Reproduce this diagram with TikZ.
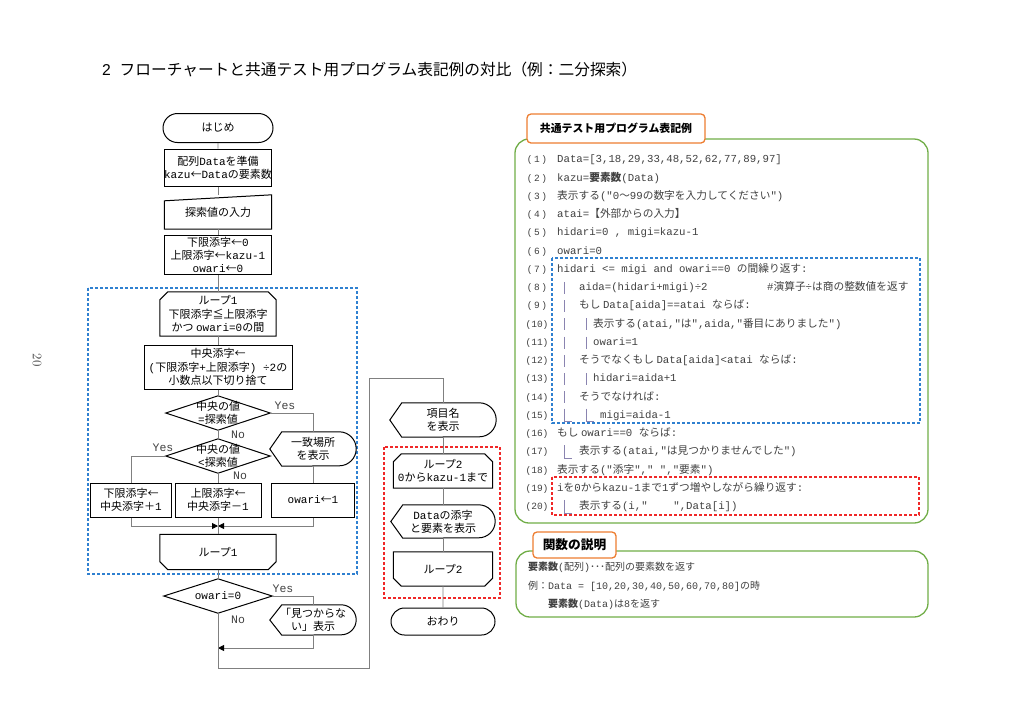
\documentclass[tikz,border=0pt]{standalone}
\usepackage{fontspec}
\usepackage{tikz}
\usetikzlibrary{
  shapes.misc,
  arrows.meta,
  positioning
}
\newfontfamily\jpfont{Noto Sans CJK JP}
\newfontfamily\monofont{Liberation Mono}
\newfontfamily\sansfont{Liberation Sans}
\newcommand\latinfont{\monofont}
% kana and kanji go to the CJK font, the rest to \latinfont
\XeTeXinterchartokenstate=1
\newXeTeXintercharclass\jpclass
\newcount\jpchar
\newcommand\setjprange[2]{%
  \jpchar=#1\relax
  \loop\ifnum\jpchar<#2\relax
    \XeTeXcharclass\jpchar=\jpclass
    \advance\jpchar by 1
  \repeat}
\setjprange{"2190}{"2200}
\setjprange{"2260}{"2270}
\setjprange{"3000}{"3100}
\setjprange{"4E00}{"A000}
\setjprange{"FF00}{"FFF0}
\XeTeXinterchartoks 0 \jpclass = {\jpfont}
\XeTeXinterchartoks 4095 \jpclass = {\jpfont}
\XeTeXinterchartoks \jpclass 0 = {\latinfont}
\XeTeXinterchartoks 4095 0 = {\latinfont}

\definecolor{flowgray}{HTML}{808080}
\definecolor{loopblue}{HTML}{2F80D0}
\definecolor{loopred}{HTML}{F02828}
\definecolor{headorange}{HTML}{ED7D31}
\definecolor{panelgreen}{HTML}{70AD47}
\definecolor{codegray}{HTML}{404040}
\definecolor{barpurple}{HTML}{8A84B0}

\newcommand\flowfont{\fontsize{11}{13.3}\selectfont}
\newcommand\codefont{\fontsize{10.7}{12}\selectfont}

% outlines drawn round plain nodes
\newcommand\diashape[1]{%
  \draw[shapeline] (#1.west) -- (#1.north) -- (#1.east) -- (#1.south) -- cycle;}
\newcommand\manualin[1]{%
  \draw[shapeline] (#1.south west) -- (#1.south east) -- (#1.north east)
    -- ([yshift=-6pt]#1.north west) -- cycle;}
\newcommand\loopstart[1]{%
  \draw[shapeline] (#1.south west) -- ([yshift=-8pt]#1.north west)
    -- ([xshift=8pt]#1.north west) -- ([xshift=-8pt]#1.north east)
    -- ([yshift=-8pt]#1.north east) -- (#1.south east) -- cycle;}
\newcommand\loopend[1]{%
  \draw[shapeline] (#1.north west) -- (#1.north east)
    -- ([yshift=8pt]#1.south east) -- ([xshift=-8pt]#1.south east)
    -- ([xshift=8pt]#1.south west) -- ([yshift=8pt]#1.south west) -- cycle;}
\newcommand\dispshape[2]{%
  \draw[shapeline] (#1.west) -- ([xshift=12pt]#1.north west)
    -- ([xshift=-#2pt]#1.north east)
    arc[start angle=90, end angle=-90, radius=#2pt]
    -- ([xshift=12pt]#1.south west) -- cycle;}

\tikzset{
  shapeline/.style={draw=black, line width=1pt},
  flowtext/.style={rectangle, inner sep=0pt, align=center, font=\flowfont},
  process/.style={flowtext, draw=black, line width=1pt},
  terminal/.style={rounded rectangle, draw=black, line width=1pt,
    inner sep=0pt, font=\flowfont},
  conn/.style={draw=flowgray, line width=0.8pt},
  tip/.style={-{Triangle[length=6pt,width=6pt,color=black]}},
  yesno/.style={inner sep=0pt, text=codegray,
    font=\fontsize{11.5}{12}\selectfont},
  loopbox/.style={draw=loopblue, line width=1.2pt, dash pattern=on 3pt off 2pt},
  redbox/.style={draw=loopred, line width=1.2pt, dash pattern=on 3pt off 2pt},
  panel/.style={draw=panelgreen, line width=1.3pt, rounded corners=14pt},
  tabhead/.style={rectangle, draw=headorange, line width=1.3pt, fill=white,
    rounded corners=4pt, inner sep=0pt},
  codeline/.style={anchor=west, inner sep=0pt, text height=8pt,
    text depth=2.5pt, text=codegray, font=\codefont},
  lineno/.style={inner sep=0pt, text height=8pt, text depth=2.5pt,
    text=codegray, font=\fontsize{9.5}{11}\selectfont},
  noteline/.style={anchor=west, inner sep=0pt, text height=8pt,
    text depth=2.5pt, text=codegray, font=\fontsize{10}{12}\selectfont},
  bar/.style={draw=barpurple, line width=0.9pt}
}

\begin{document}
\begin{tikzpicture}[x=1pt, y=-1pt]
\useasboundingbox (0,0) rectangle (1024,724);

\node[anchor=west, inner sep=0pt,
  font={\def\latinfont{\sansfont}\fontsize{15.7}{18}\selectfont}]
  (title) at (102,70) {2\ \ フローチャートと共通テスト用プログラム表記例の対比（例：二分探索）};
\node[rotate=-90, inner sep=0pt, text=codegray,
  font={\def\latinfont{\rmfamily}\fontsize{13}{14}\selectfont}]
  (pageno) at (37,360) {20};

% dashed loop frames
\draw[loopbox] (88,288) rectangle (357,574);
\draw[redbox] (384,447) rectangle (500,598);

% flowchart, left column
\node[terminal, minimum width=110pt, minimum height=29pt] (start) at (218,128) {はじめ};
\node[process, minimum width=107pt, minimum height=37pt] (prep) at (218,167.5)
  {配列Dataを準備\\kazu←Dataの要素数};
\node[flowtext, minimum width=107pt, minimum height=34pt] (inp) at (218,212) {探索値の入力};
\node[process, minimum width=107pt, minimum height=39pt] (init) at (218,255)
  {下限添字←0\\上限添字←kazu-1\\owari←0};
\node[flowtext, minimum width=116pt, minimum height=44pt] (loop1s) at (218,314)
  {ループ1\\下限添字≦上限添字\\かつ owari=0の間};
\node[process, minimum width=148pt, minimum height=44pt] (calc) at (218,367)
  {中央添字←\\(下限添字+上限添字) ÷2の\\小数点以下切り捨て};
\node[flowtext, minimum width=104pt, minimum height=34pt] (dec1) at (218,413) {中央の値\\=探索値};
\node[flowtext, minimum width=104pt, minimum height=34pt] (dec2) at (218,456) {中央の値\\<探索値};
\node[flowtext, minimum width=86pt, minimum height=34pt] (found) at (313,449) {一致場所\\を表示};
\node[process, minimum width=81pt, minimum height=34pt] (lowup) at (131,500) {下限添字←\\中央添字＋1};
\node[process, minimum width=86pt, minimum height=34pt] (upup) at (218,500) {上限添字←\\中央添字－1};
\node[process, minimum width=83pt, minimum height=34pt] (endset) at (313,500) {owari←1};
\coordinate (mrg) at (218,526);
\node[flowtext, minimum width=116pt, minimum height=35pt] (loop1e) at (218,552) {ループ1};
\node[flowtext, minimum width=108pt, minimum height=34pt] (dec3) at (218,596) {owari=0};
\node[flowtext, minimum width=86pt, minimum height=30pt] (notfound) at (313,620)
  {「見つからな\\い」表示};
\coordinate (ret) at (218,648);
\coordinate (low) at (218,668);
\coordinate (turn) at (369,378);

% flowchart, second column
\node[flowtext, minimum width=106pt, minimum height=34pt] (head) at (443,420) {項目名\\を表示};
\node[flowtext, minimum width=99pt, minimum height=34pt] (loop2s) at (443,471)
  {ループ2\\0からkazu-1まで};
\node[flowtext, minimum width=104pt, minimum height=33pt] (show) at (443,521.5)
  {Dataの添字\\と要素を表示};
\node[flowtext, minimum width=99pt, minimum height=34pt] (loop2e) at (443,569) {ループ2};
\node[terminal, minimum width=104pt, minimum height=27pt] (fin) at (443,621.5) {おわり};

\manualin{inp}
\loopstart{loop1s}
\diashape{dec1}
\diashape{dec2}
\dispshape{found}{17}
\loopend{loop1e}
\diashape{dec3}
\dispshape{notfound}{15}
\dispshape{head}{17}
\loopstart{loop2s}
\dispshape{show}{16.5}
\loopend{loop2e}

\draw[conn] (start) -- (prep);
\draw[conn] (prep) -- (inp);
\draw[conn] (inp) -- (init);
\draw[conn] (init) -- (loop1s);
\draw[conn] (loop1s) -- (calc);
\draw[conn] (calc) -- (dec1);
\draw[conn] (dec1) -- (dec2);
\draw[conn] (dec1.east) -| (found.north);
\draw[conn] (dec2.west) -| (lowup.north);
\draw[conn] (dec2.south) -- (upup.north);
\draw[conn] (found) -- (endset);
\draw[conn, tip] (lowup.south) |- (mrg);
\draw[conn, tip] (endset.south) |- (mrg);
\draw[conn] (upup.south) -- (loop1e.north);
\draw[conn] (loop1e) -- (dec3);
\draw[conn] (dec3.east) -| (notfound.north);
\draw[conn, tip] (notfound.south) |- (ret);
\draw[conn] (dec3.south) -- (low) -| (turn) -| (head.north);
\draw[conn] (head) -- (loop2s);
\draw[conn] (loop2s) -- (show);
\draw[conn] (show) -- (loop2e);
\draw[conn] (loop2e) -- (fin);

\node[yesno] (yes1) at (285,406) {Yes};
\node[yesno] (nolab1) at (238,435) {No};
\node[yesno] (yes2) at (163,448) {Yes};
\node[yesno] (nolab2) at (240,476) {No};
\node[yesno] (yes3) at (283,589) {Yes};
\node[yesno] (nolab3) at (238,620) {No};

% program listing
\draw[panel] (515,139) rectangle (928,523);
\node[tabhead, minimum width=178pt, minimum height=29pt,
  font=\fontsize{10.9}{12}\selectfont\bfseries] (codetab) at (616,128.5)
  {共通テスト用プログラム表記例};
\draw[loopbox] (552,258) rectangle (920,423);
\draw[redbox] (552,477) rectangle (919,515);

\foreach \n in {1,...,20} {
  \node[lineno] (ln\n) at (537,{160+(\n-1)*18.26})
    {(\ifnum\n<10 \,\n\,\else\n\fi)};
}
\foreach \n/\xx/\txt in {
  1/557/{Data=[3,18,29,33,48,52,62,77,89,97]},
  2/557/{kazu=\textbf{要素数}(Data)},
  3/557/{表示する("0～99の数字を入力してください")},
  4/557/{atai=【外部からの入力】},
  5/557/{hidari=0 , migi=kazu-1},
  6/557/{owari=0},
  7/557/{hidari <= migi and owari==0 の間繰り返す:},
  8/579/{aida=(hidari+migi)÷2},
  9/579/{もし Data[aida]==atai ならば:},
  10/593/{表示する(atai,"は",aida,"番目にありました")},
  11/593/{owari=1},
  12/579/{そうでなくもし Data[aida]<atai ならば:},
  13/593/{hidari=aida+1},
  14/579/{そうでなければ:},
  15/600/{migi=aida-1},
  16/557/{もし owari==0 ならば:},
  17/579/{表示する(atai,"は見つかりませんでした")},
  18/557/{表示する("添字"," ","要素")},
  19/557/{iを0からkazu-1まで1ずつ増やしながら繰り返す:},
  20/579/{表示する(i,"\ \ \ \ ",Data[i])}%
} {
  \node[codeline] (code\n) at (\xx,{160+(\n-1)*18.26}) {\txt};
}
\node[codeline] (comment8) at (767,{160+7*18.26}) {\#演算子÷は商の整数値を返す};

% block bars
\foreach \n in {8,...,14} {
  \draw[bar] (564,{160+(\n-1)*18.26-6}) -- ++(0,12);
}
\foreach \n in {10,11,13} {
  \draw[bar] (586,{160+(\n-1)*18.26-6}) -- ++(0,12);
}
\foreach \xx/\n in {564/15, 586/15, 564/17, 564/20} {
  \draw[bar] (\xx,{160+(\n-1)*18.26-7}) -- ++(0,13) -- ++(8,0);
}

% function note
\draw[panel] (516,551) rectangle (928,617);
\node[tabhead, minimum width=83pt, minimum height=26pt,
  font=\fontsize{12.7}{14}\selectfont\bfseries] (functab) at (574.5,545) {関数の説明};
\node[noteline] (note1) at (528,568) {\textbf{要素数}(配列)･･･配列の要素数を返す};
\node[noteline] (note2) at (528,587) {例：Data = [10,20,30,40,50,60,70,80]の時};
\node[noteline] (note3) at (548,605) {\textbf{要素数}(Data)は8を返す};
\end{tikzpicture}
\end{document}
